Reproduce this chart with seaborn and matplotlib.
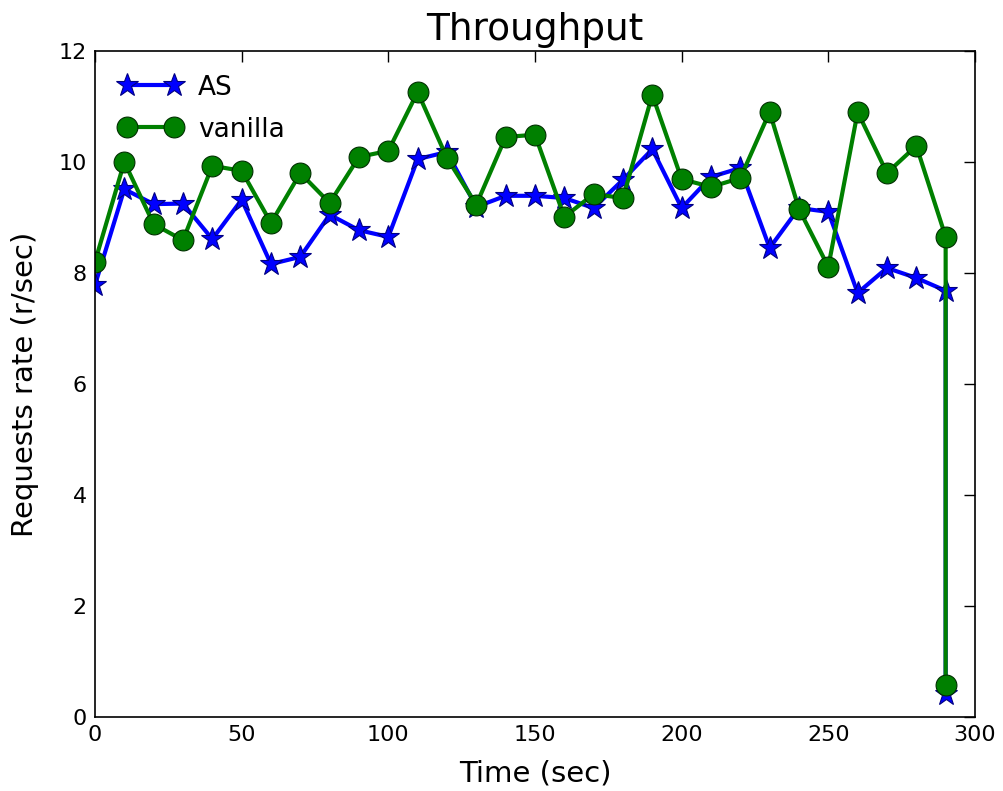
import matplotlib
matplotlib.use("Agg")
import matplotlib.pyplot as plt
import seaborn as sns
import pandas as pd

time = [0, 10, 20, 30, 40, 50, 60, 70, 80, 90, 100, 110, 120, 130, 140, 150,
        160, 170, 180, 190, 200, 210, 220, 230, 240, 250, 260, 270, 280, 290, 290]
as_rate = [7.78, 9.51, 9.24, 9.25, 8.61, 9.32, 8.16, 8.29, 9.05, 8.77, 8.65,
           10.05, 10.18, 9.19, 9.39, 9.39, 9.35, 9.17, 9.68, 10.23, 9.17, 9.73,
           9.89, 8.45, 9.17, 9.10, 7.64, 8.09, 7.91, 7.68, 0.41]
vanilla_rate = [8.20, 10.0, 8.88, 8.59, 9.93, 9.84, 8.90, 9.80, 9.26, 10.09, 10.20,
                11.26, 10.07, 9.23, 10.45, 10.49, 9.01, 9.42, 9.35, 11.21, 9.69, 9.55,
                9.71, 10.90, 9.15, 8.11, 10.90, 9.80, 10.29, 8.65, 0.58]

sns.set_style("white")
plt.rcParams['font.family'] = ['DejaVu Sans']
plt.rcParams['text.color'] = 'black'
plt.rcParams['axes.labelcolor'] = 'black'

fig = plt.figure(figsize=(10.04, 7.91), dpi=100)
ax = fig.add_axes([0.0946, 0.0936, 0.8765, 0.842])

df_as = pd.DataFrame({"t": time, "v": as_rate})
df_va = pd.DataFrame({"t": time, "v": vanilla_rate})

sns.lineplot(data=df_as, x="t", y="v", ax=ax, estimator=None, sort=False,
             color="#0000ff", marker="*", markersize=17, linewidth=3,
             markeredgecolor="#000080", markeredgewidth=0.8, label="AS")
sns.lineplot(data=df_va, x="t", y="v", ax=ax, estimator=None, sort=False,
             color="#008000", marker="o", markersize=15, linewidth=3,
             markeredgecolor="#003000", markeredgewidth=0.8, label="vanilla")

ax.set_xlim(0, 300)
ax.set_ylim(0, 12)
ax.set_xticks([0, 50, 100, 150, 200, 250, 300])
ax.set_yticks([0, 2, 4, 6, 8, 10, 12])
ax.tick_params(direction="in", length=8, width=1, top=True, right=True,
               labelsize=16, colors="black", pad=6)
for s in ax.spines.values():
    s.set_color("black")
    s.set_linewidth(1.2)
ax.set_xlabel("Time (sec)", fontsize=21, color="black", labelpad=10)
ax.set_ylabel("Requests rate (r/sec)", fontsize=21, color="black", labelpad=14)
ax.set_title("Throughput", fontsize=27, color="black", pad=8)
leg = ax.legend(loc="upper left", frameon=False, fontsize=19, numpoints=2,
                handlelength=2.4, borderaxespad=0.3, labelspacing=0.6,
                handletextpad=0.6, borderpad=0.6)
for t in leg.get_texts():
    t.set_color("black")

fig.savefig("out.png", dpi=100)
